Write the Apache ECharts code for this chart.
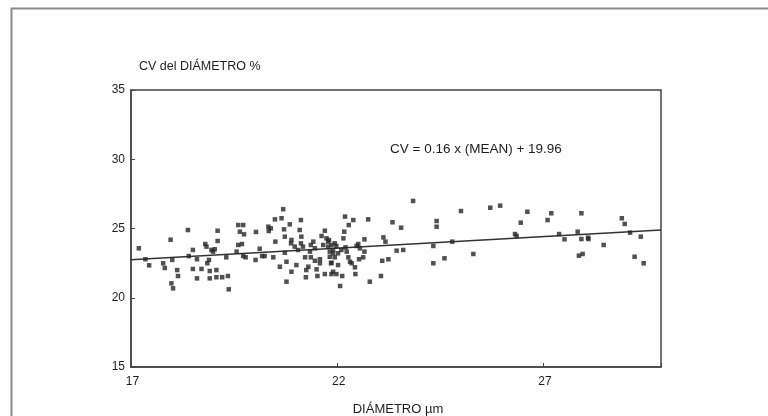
<!DOCTYPE html>
<html>
<head>
<meta charset="utf-8">
<script src="https://cdn.jsdelivr.net/npm/echarts@6/dist/echarts.min.js"></script>
<style>
html,body{margin:0;padding:0;background:#fff;}
#c{width:768px;height:416px;}
</style>
</head>
<body>
<div id="c"></div>
<script>
// Scatter points: diameter (µm) and CV (%)
var diam = [
17.19,17.35,17.44,17.78,17.82,17.96,17.98,18.02,18.00,18.12,18.14,18.38,18.40,18.50,18.50,18.60,18.60,18.71,18.80,18.83,
18.85,18.89,18.91,18.91,18.95,18.99,19.03,19.10,19.10,19.07,19.07,19.21,19.31,19.35,19.37,19.60,19.72,19.64,19.74,19.60,
19.69,19.56,19.72,19.78,20.03,20.02,20.12,20.18,20.24,20.33,20.34,20.39,20.49,20.45,20.50,20.61,20.65,20.69,20.71,20.73,
20.73,20.77,20.77,20.85,20.88,20.89,20.89,20.97,21.01,21.05,21.09,21.12,21.13,21.12,21.17,21.22,21.24,21.25,21.30,21.34,
21.36,21.36,21.42,21.46,21.46,21.50,21.52,21.58,21.58,21.62,21.66,21.70,21.70,21.74,21.78,21.78,21.82,21.86,21.86,21.90,
21.94,21.98,22.02,21.80,21.86,21.82,21.90,21.85,21.94,21.90,21.98,22.02,22.07,22.12,22.10,22.15,22.17,22.19,22.20,22.23,
22.28,22.27,22.31,22.35,22.39,22.43,22.44,22.47,22.51,22.53,22.55,22.63,22.66,22.66,22.75,22.79,23.06,23.09,23.12,23.17,
23.24,23.34,23.44,23.55,23.60,23.84,24.33,24.33,24.41,24.41,24.60,24.79,25.00,25.30,25.71,25.95,26.31,26.35,26.45,26.61,
27.10,27.19,27.38,27.51,27.83,27.92,27.92,28.08,28.09,27.86,27.95,28.46,28.90,28.97,29.10,29.36,29.21,29.43
];
var cv = [
23.57,22.78,22.34,22.49,22.15,24.19,21.04,20.68,22.73,22.00,21.57,24.89,23.01,23.45,22.08,22.78,21.40,22.08,23.88,23.69,
22.49,22.73,21.93,21.40,23.45,23.33,23.50,24.84,24.10,22.00,21.48,21.48,22.92,21.57,20.61,25.25,25.25,24.77,24.58,23.81,
23.88,23.33,23.01,22.92,24.75,22.73,23.54,23.01,23.01,25.13,24.82,25.01,25.66,22.92,24.05,22.24,25.74,26.39,24.94,24.41,
23.25,21.16,22.60,25.30,23.93,24.17,21.88,23.69,22.36,23.45,24.89,25.61,24.41,23.93,23.69,22.92,21.48,22.00,22.24,23.33,
23.81,22.92,24.05,23.57,22.67,22.05,21.57,22.78,22.49,24.46,23.81,24.84,21.71,24.29,24.05,23.69,22.96,22.53,21.71,23.45,
23.93,23.74,23.21,24.17,23.81,23.33,23.21,22.49,22.92,21.88,21.71,22.36,20.85,21.57,23.45,24.29,24.77,25.86,23.64,23.33,
25.25,22.92,22.60,22.49,25.61,22.20,21.71,23.74,23.88,22.78,23.57,22.92,24.22,23.33,25.66,21.16,21.57,22.67,24.36,24.05,
22.78,25.45,23.40,25.06,23.45,26.99,23.74,22.49,25.54,25.13,22.85,24.05,26.26,23.16,26.50,26.65,24.60,24.46,25.42,26.21,
25.61,26.10,24.60,24.22,24.77,26.10,24.24,24.34,24.24,23.04,23.16,23.81,25.74,25.33,24.70,24.41,22.96,22.49
];
// Regression line end points
var fitX = [17, 29.85];
var fitY = [22.75, 24.9];
var xTicks = [17, 22, 27];
var yTicks = [15, 20, 25, 30, 35];
var yTitle = 'CV del DIÁMETRO %';
var xTitle = 'DIÁMETRO µm';
var eqText = 'CV = 0.16 x (MEAN) + 19.96';

var pts = diam.map(function (d, i) { return [d, cv[i]]; });
var fit = fitX.map(function (d, i) { return [d, fitY[i]]; });

var font = 'Liberation Sans, Arial, sans-serif';
var ink = '#1e1e1e';
var chart = echarts.init(document.getElementById('c'), null, {renderer: 'canvas'});
chart.setOption({
  backgroundColor: '#fefefe',
  animation: false,
  grid: {left: 131, right: 107, top: 90, bottom: 49, outerBoundsMode: 'none', containLabel: false,
    show: true, borderColor: '#444', borderWidth: 1.5, backgroundColor: 'transparent'},
  xAxis: {
    type: 'value', min: 17, max: 29.85, interval: 5,
    name: xTitle, nameLocation: 'middle', nameGap: 36,
    nameTextStyle: {fontFamily: font, fontSize: 13, color: ink, padding: [0, 0, 0, 4]},
    axisLine: {lineStyle: {color: '#444', width: 1.5}},
    axisTick: {inside: true, length: 4, lineStyle: {color: '#444'}},
    axisLabel: {fontFamily: font, fontSize: 12, color: ink, margin: 9, padding: [0, 0, 0, 3],
      formatter: function (v) { return xTicks.indexOf(v) >= 0 ? String(v) : ''; }},
    splitLine: {show: false}
  },
  yAxis: {
    type: 'value', min: 15, max: 35, interval: 5,
    name: yTitle, nameLocation: 'end', nameGap: 23,
    nameTextStyle: {fontFamily: font, fontSize: 12.5, color: ink, align: 'left', verticalAlign: 'middle', padding: [0, 0, 0, 8]},
    axisLine: {lineStyle: {color: '#444', width: 1.5}},
    axisTick: {inside: true, length: 4, lineStyle: {color: '#444'}},
    axisLabel: {fontFamily: font, fontSize: 12, color: ink, margin: 6,
      formatter: function (v) { return yTicks.indexOf(v) >= 0 ? String(v) : ''; }},
    splitLine: {show: false}
  },
  graphic: [
    {type: 'rect', left: 9, top: 6, shape: {width: 800, height: 450}, style: {fill: 'none', stroke: '#8a8a8a', lineWidth: 2}, silent: true},
    {type: 'text', left: 390, top: 142, style: {text: eqText, font: '13.5px ' + font, fill: ink}}
  ],
  series: [
    {type: 'scatter', data: pts, symbol: 'rect', symbolSize: 4.5, itemStyle: {color: '#262626'}, z: 3},
    {type: 'line', data: fit, showSymbol: false, symbol: 'none', lineStyle: {color: '#333', width: 1.5}, z: 2}
  ]
});
</script>
</body>
</html>
